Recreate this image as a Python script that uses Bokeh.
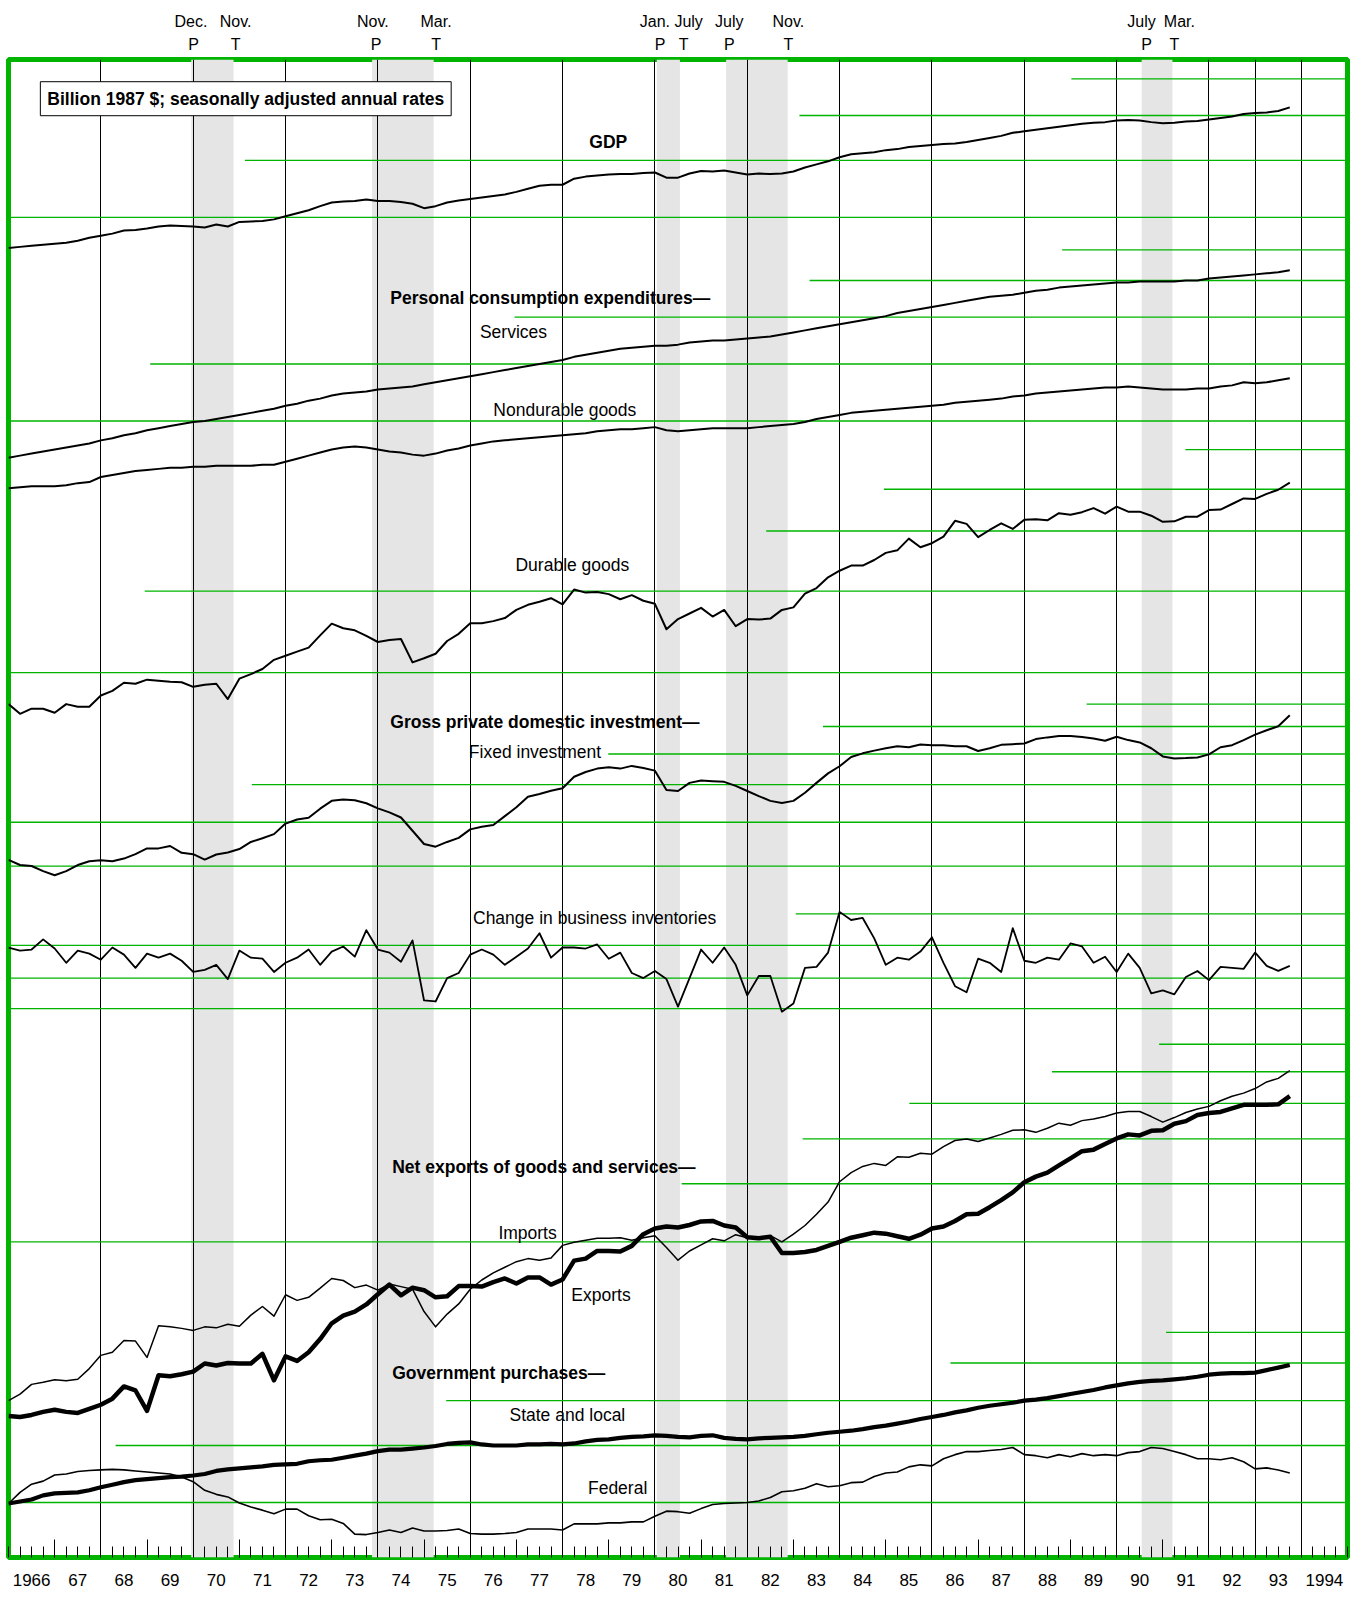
from bokeh.plotting import figure
from bokeh.models import Range1d, LinearAxis, FixedTicker, BoxAnnotation, Label, Grid
from bokeh.core.properties import value
from bokeh.embed import file_html
from bokeh.resources import INLINE

FONT = "Liberation Sans"
GREEN = "#00b400"

# ---------------- data (quarterly, 1966Q1 - 1993Q4), billion 1987 $ ----------------
start_year = 1966
n_quarters = 112
quarters = [start_year + q / 4 for q in range(n_quarters)]

gdp = [2400, 2420, 2440, 2460, 2480, 2500, 2540, 2600, 2640, 2680, 2740, 2750,
       2780, 2820, 2840, 2830, 2820, 2800, 2860, 2820, 2910, 2920, 2930, 2960,
       3020, 3080, 3140, 3220, 3290, 3310, 3320, 3350, 3320, 3320, 3300, 3266,
       3180, 3220, 3290, 3330, 3360, 3390, 3420, 3450, 3500, 3560, 3620, 3640,
       3640, 3760, 3800, 3820, 3840, 3850, 3850, 3870, 3880, 3780, 3780, 3860,
       3910, 3900, 3920, 3880, 3840, 3860, 3850, 3860, 3900, 3980, 4040, 4100,
       4180, 4240, 4260, 4280, 4320, 4340, 4380, 4400, 4420, 4440, 4450, 4480,
       4520, 4560, 4600, 4660, 4690, 4720, 4750, 4780, 4810, 4840, 4860, 4870,
       4900, 4910, 4900, 4870, 4850, 4860, 4880, 4890, 4920, 4950, 4980, 5030,
       5050, 5060, 5090, 5160]

services = [755, 765, 775, 785, 795, 805, 815, 825, 840, 850, 865, 875,
            890, 900, 910, 920, 930, 935, 945, 955, 965, 975, 985, 995,
            1010, 1020, 1035, 1045, 1060, 1070, 1075, 1080, 1090, 1095, 1100, 1105,
            1115, 1125, 1135, 1145, 1155, 1165, 1175, 1185, 1195, 1205, 1215, 1225,
            1235, 1250, 1260, 1270, 1280, 1290, 1295, 1300, 1305, 1305, 1310, 1320,
            1325, 1330, 1330, 1335, 1340, 1345, 1350, 1360, 1370, 1380, 1390, 1400,
            1410, 1420, 1430, 1440, 1450, 1465, 1475, 1485, 1495, 1505, 1515, 1525,
            1535, 1545, 1550, 1555, 1565, 1575, 1580, 1590, 1595, 1600, 1605, 1610,
            1615, 1615, 1620, 1620, 1620, 1620, 1625, 1625, 1635, 1640, 1645, 1650,
            1655, 1660, 1665, 1675]

nondurable = [605, 610, 615, 615, 615, 620, 630, 635, 660, 670, 680, 690,
              695, 700, 705, 705, 710, 710, 715, 715, 715, 715, 720, 720,
              735, 750, 765, 780, 795, 805, 810, 805, 795, 785, 780, 770,
              765, 775, 790, 800, 815, 825, 835, 840, 845, 850, 855, 860,
              865, 870, 875, 885, 890, 895, 895, 900, 905, 890, 885, 890,
              895, 900, 900, 900, 900, 905, 910, 915, 920, 930, 945, 955,
              965, 975, 980, 985, 990, 995, 1000, 1005, 1010, 1015, 1025, 1030,
              1035, 1040, 1045, 1055, 1060, 1070, 1075, 1080, 1085, 1090, 1095, 1100,
              1100, 1105, 1100, 1095, 1090, 1090, 1090, 1095, 1095, 1105, 1110, 1125,
              1120, 1125, 1135, 1145]

durable = [128, 109, 119, 119, 111, 128, 123, 123, 145, 154, 170, 168,
           176, 174, 172, 171, 162, 166, 168, 138, 178, 187, 197, 215,
           223, 231, 239, 263, 286, 277, 273, 262, 250, 254, 256, 210,
           218, 227, 252, 266, 287, 287, 291, 297, 313, 323, 329, 336,
           324, 353, 347, 348, 344, 334, 342, 331, 325, 275, 295, 306,
           317, 300, 313, 281, 295, 294, 296, 313, 318, 345, 356, 377,
           390, 400, 400, 411, 425, 430, 453, 436, 444, 457, 488, 482,
           456, 470, 483, 472, 490, 491, 489, 503, 500, 505, 513, 502,
           516, 506, 506, 498, 486, 487, 496, 496, 509, 510, 521, 532,
           531, 541, 549, 563]

fixed_investment = [378, 363, 360, 345, 333, 345, 363, 374, 377, 374, 382, 395,
                    412, 412, 419, 399, 395, 379, 394, 400, 410, 431, 442, 454,
                    485, 497, 502, 529, 552, 556, 554, 545, 530, 518, 503, 464,
                    425, 417, 431, 443, 468, 476, 481, 507, 533, 564, 572, 582,
                    589, 623, 637, 647, 651, 647, 655, 649, 641, 584, 581, 605,
                    612, 610, 608, 596, 581, 566, 552, 546, 552, 576, 605, 633,
                    654, 681, 692, 700, 707, 713, 710, 718, 716, 716, 713, 713,
                    699, 707, 717, 719, 721, 734, 739, 743, 743, 740, 736, 729,
                    741, 731, 724, 707, 683, 677, 678, 680, 689, 710, 716, 731,
                    747, 760, 772, 804]

inventory_change = [35, 32, 33, 43, 34, 20, 32, 29, 23, 35, 28, 15,
                    29, 25, 29, 22, 11, 13, 18, 4, 32, 25, 24, 11,
                    20, 25, 33, 18, 31, 36, 26, 52, 33, 30, 21, 42,
                    -17, -18, 5, 10, 28, 33, 28, 18, 26, 34, 49, 25,
                    35, 35, 34, 38, 24, 30, 10, 5, 12, 4, -23, 5,
                    33, 20, 35, 18, -12, 7, 7, -28, -20, 15, 16, 30,
                    70, 62, 64, 44, 18, 25, 23, 31, 45, 20, -3, -9,
                    24, 20, 11, 54, 22, 20, 25, 23, 39, 36, 20, 26,
                    11, 29, 15, -10, -7, -11, 6, 12, 3, 16, 15, 14,
                    30, 17, 12, 17]

imports = [140, 153, 172, 176, 181, 179, 182, 203, 229, 235, 258, 257,
           225, 287, 285, 282, 278, 285, 283, 290, 286, 308, 325, 306,
           348, 337, 343, 361, 380, 376, 362, 367, 357, 369, 364, 359,
           315, 285, 310, 330, 359, 377, 391, 402, 413, 419, 416, 420,
           445, 451, 455, 459, 459, 460, 455, 460, 464, 441, 416, 434,
           446, 458, 454, 466, 460, 458, 464, 452, 467, 484, 506, 530,
           570, 588, 600, 606, 602, 619, 618, 626, 624, 639, 651, 654,
           649, 656, 663, 671, 672, 667, 675, 685, 681, 690, 693, 698,
           705, 708, 708, 698, 687, 696, 706, 713, 718, 729, 738, 744,
           753, 766, 773, 788]

exports = [110, 108, 112, 118, 122, 118, 116, 124, 132, 144, 168, 160,
           120, 190, 188, 192, 197, 213, 209, 214, 213, 213, 232, 180,
           227, 218, 235, 261, 292, 307, 315, 329, 349, 368, 347, 362,
           357, 343, 345, 365, 365, 364, 373, 380, 370, 382, 382, 368,
           378, 415, 419, 434, 434, 433, 444, 467, 478, 482, 480, 485,
           492, 493, 484, 480, 461, 459, 462, 430, 430, 432, 436, 444,
           452, 460, 465, 470, 468, 463, 458, 466, 478, 482, 493, 506,
           507, 520, 534, 549, 569, 580, 588, 602, 616, 630, 633, 644,
           655, 663, 661, 670, 671, 684, 689, 701, 705, 707, 714, 721,
           721, 721, 722, 738]

state_local = [288, 292, 296, 304, 308, 309, 310, 314, 320, 325, 330, 334,
               336, 338, 340, 341, 343, 346, 352, 355, 357, 359, 361, 364,
               365, 366, 371, 373, 374, 378, 382, 386, 391, 394, 394, 396,
               398, 401, 405, 407, 408, 404, 402, 402, 402, 404, 404, 405,
               404, 406, 410, 413, 414, 417, 419, 420, 422, 421, 419, 418,
               421, 422, 417, 415, 414, 416, 417, 418, 419, 421, 424, 427,
               429, 431, 434, 438, 441, 445, 449, 454, 458, 462, 467, 471,
               476, 480, 483, 486, 490, 492, 495, 499, 503, 507, 511, 516,
               520, 524, 527, 529, 530, 532, 534, 537, 541, 543, 544, 544,
               545, 550, 555, 560]

federal = [288, 310, 326, 332, 344, 346, 351, 353, 354, 355, 354, 352,
           350, 348, 346, 340, 331, 314, 306, 301, 289, 281, 275, 268,
           277, 277, 264, 256, 257, 249, 228, 227, 231, 236, 231, 240,
           234, 234, 235, 238, 229, 228, 228, 229, 231, 238, 238, 238,
           236, 248, 248, 248, 250, 250, 252, 252, 263, 273, 272, 269,
           278, 286, 288, 289, 290, 293, 300, 311, 313, 318, 327, 321,
           323, 329, 330, 341, 348, 350, 360, 364, 362, 376, 384, 390,
           390, 392, 394, 398, 384, 382, 378, 384, 380, 386, 382, 384,
           382, 388, 390, 398, 396, 390, 384, 376, 376, 374, 378, 370,
           356, 358, 354, 348]

# business-cycle peaks (P) and troughs (T), mid-month dates
recession_start = [1969.958, 1973.875, 1980.042, 1981.542, 1990.542]
recession_end = [1970.875, 1975.208, 1980.542, 1982.875, 1991.208]
turn_months = ["Dec.", "Nov.", "Nov.", "Mar.", "Jan.", "July", "July", "Nov.", "July", "Mar."]
turn_month_pos = [1969.95, 1970.92, 1973.89, 1975.26, 1980.00, 1980.73, 1981.61, 1982.89, 1990.54, 1991.36]
turn_types = ["P", "T", "P", "T", "P", "T", "P", "T", "P", "T"]
turn_type_pos = [1970.01, 1970.917, 1973.96, 1975.26, 1980.11, 1980.62, 1981.61, 1982.89, 1990.65, 1991.25]

year_labels = ["1966"] + ["%02d" % (y % 100) for y in range(1967, 1994)] + ["1994"]

# reference (grid) levels of each panel and the year where each is drawn from
panels = {
    "gdp":   dict(rng=(-23320, 6100), grid=[5720, 5000, 4120, 3000], grid_from=[1989.02, 1983.13, 1971.12, 1966.0]),
    "pce":   dict(rng=(-4645, 2710), grid=[1775, 1625, 1445, 1215, 935], grid_from=[1988.82, 1983.35, 1976.96, 1969.07, 1966.0]),
    "dur":   dict(rng=(-1548, 1394), grid=[628, 550, 468, 350, 190], grid_from=[1991.49, 1984.96, 1982.41, 1968.95, 1966.0]),
    "fix":   dict(rng=(-1677, 2736), grid=[837, 771, 690, 600, 489, 360], grid_from=[1989.35, 1983.64, 1978.99, 1971.27, 1966.0, 1966.0]),
    "inv":   dict(rng=(-564, 907), grid=[68, 37, 5, -25], grid_from=[1983.05, 1966.0, 1966.0, 1966.0]),
    "netx":  dict(rng=(-168, 2774), grid=[840, 786, 724, 654, 566, 452], grid_from=[1990.92, 1988.6, 1985.51, 1983.2, 1980.58, 1966.0]),
    "gov":   dict(rng=(182, 3124), grid=[624, 564, 490, 402, 290], grid_from=[1991.07, 1986.4, 1975.48, 1968.32, 1966.0]),
}

series = [
    ("gdp", gdp, 2.0), ("pce", services, 2.0), ("pce", nondurable, 2.0),
    ("dur", durable, 2.0), ("fix", fixed_investment, 2.0), ("inv", inventory_change, 1.8),
    ("netx", imports, 1.5), ("netx", exports, 4.5),
    ("gov", state_local, 4.2), ("gov", federal, 1.6),
]

# ---------------- figure ----------------
X0, X1 = 1966, 1995
FH = 1471   # frame units (main range)
p = figure(frame_width=1339, frame_height=1498, x_range=Range1d(X0, X1), y_range=Range1d(0, FH),
           x_axis_type=None, y_axis_type=None, output_backend="svg", toolbar_location=None,
           min_border_left=8, min_border_right=7, min_border_top=59, min_border_bottom=38,
           background_fill_color="white", border_fill_color="white")
p.outline_line_color = GREEN
p.outline_line_width = 5

p.extra_y_ranges = {k: Range1d(*v["rng"]) for k, v in panels.items()}

for a, b in zip(recession_start, recession_end):
    p.add_layout(BoxAnnotation(left=a, right=b, fill_color="#e5e5e5", fill_alpha=1.0,
                               line_color=None, level="image"))

vlines = list(range(1968, 1993, 2)) + [1993, 1994]
p.add_layout(Grid(dimension=0, ticker=FixedTicker(ticks=vlines), grid_line_color="black",
                  grid_line_width=1))

for name, pan in panels.items():
    n = len(pan["grid"])
    p.segment(x0=pan["grid_from"], x1=[X1] * n, y0=pan["grid"], y1=pan["grid"],
              y_range_name=name, line_color=GREEN, line_width=1.3)

for name, vals, w in series:
    p.line(quarters, vals, y_range_name=name, line_color="black", line_width=w,
           line_join="round")

# panel labels (positions in frame units)
FS = "17.5px"
bold_txt = ["Personal consumption expenditures\u2014", "Gross private domestic investment\u2014",
            "Net exports of goods and services\u2014", "Government purchases\u2014"]
bold_x = [1974.27, 1974.27, 1974.31, 1974.31]
bold_y = [1237, 820, 383, 181]
p.text(x=bold_x, y=bold_y, text=bold_txt, text_font=value(FONT), text_font_size=FS,
       text_font_style="bold", text_baseline="middle", text_align="left", text_color="black")
p.text(x=[1978.99], y=[1390], text=["GDP"], text_font=value(FONT), text_font_size=FS,
       text_font_style="bold", text_baseline="middle", text_align="center", text_color="black")

norm_txt = ["Services", "Nondurable goods", "Durable goods", "Fixed investment",
            "Change in business inventories", "Imports", "Exports", "State and local", "Federal"]
norm_x = [1976.21, 1976.50, 1976.98, 1975.97, 1976.06, 1976.61, 1978.19, 1976.85, 1978.55]
norm_y = [1203, 1127, 975, 791, 628, 319, 258, 140, 68]
p.text(x=norm_x, y=norm_y, text=norm_txt, text_font=value(FONT), text_font_size=FS,
       text_baseline="middle", text_align="left", text_color="black")

p.add_layout(Label(x=1966.69, y=1432.5, text="Billion 1987 $; seasonally adjusted annual rates",
                   text_font=FONT, text_font_size=FS, text_font_style="bold", text_color="black",
                   text_baseline="middle", text_align="left", padding=7,
                   border_line_color="black", border_line_width=1,
                   background_fill_color="white", background_fill_alpha=1.0))

# bottom: quarterly ticks (tall at odd years) and year labels
odd_years = list(range(1967, 1995, 2))
tick_axis = LinearAxis(ticker=FixedTicker(ticks=odd_years, minor_ticks=[X0 + q / 4 for q in range(4 * (X1 - X0) + 1)]),
                       major_tick_in=18, major_tick_out=0, minor_tick_in=11, minor_tick_out=0,
                       major_tick_line_color="black", minor_tick_line_color="black",
                       major_label_text_color=None, major_label_text_font_size="0px",
                       major_label_standoff=0, axis_line_color=None)
p.add_layout(tick_axis, "below")

mid_years = [y + 0.5 for y in range(1966, 1995)]
year_axis = LinearAxis(ticker=FixedTicker(ticks=mid_years),
                       major_label_overrides={m: t for m, t in zip(mid_years, year_labels)},
                       major_tick_in=0, major_tick_out=0, minor_tick_in=0, minor_tick_out=0,
                       axis_line_color=None, major_label_standoff=16,
                       major_label_text_font=FONT, major_label_text_font_size="17px",
                       major_label_text_color="black")
p.add_layout(year_axis, "below")

# top: peak / trough labels
pt_axis = LinearAxis(ticker=FixedTicker(ticks=turn_type_pos),
                     major_label_overrides={m: t for m, t in zip(turn_type_pos, turn_types)},
                     major_tick_in=0, major_tick_out=0, minor_tick_in=0, minor_tick_out=0,
                     axis_line_color=None, major_label_standoff=7,
                     major_label_text_font=FONT, major_label_text_font_size="16px",
                     major_label_text_color="black")
p.add_layout(pt_axis, "above")
month_axis = LinearAxis(ticker=FixedTicker(ticks=turn_month_pos),
                        major_label_overrides={m: t for m, t in zip(turn_month_pos, turn_months)},
                        major_tick_in=0, major_tick_out=0, minor_tick_in=0, minor_tick_out=0,
                        axis_line_color=None, major_label_standoff=3,
                        major_label_text_font=FONT, major_label_text_font_size="16px",
                        major_label_text_color="black")
p.add_layout(month_axis, "above")

open("out.html", "w").write(file_html(p, INLINE))
